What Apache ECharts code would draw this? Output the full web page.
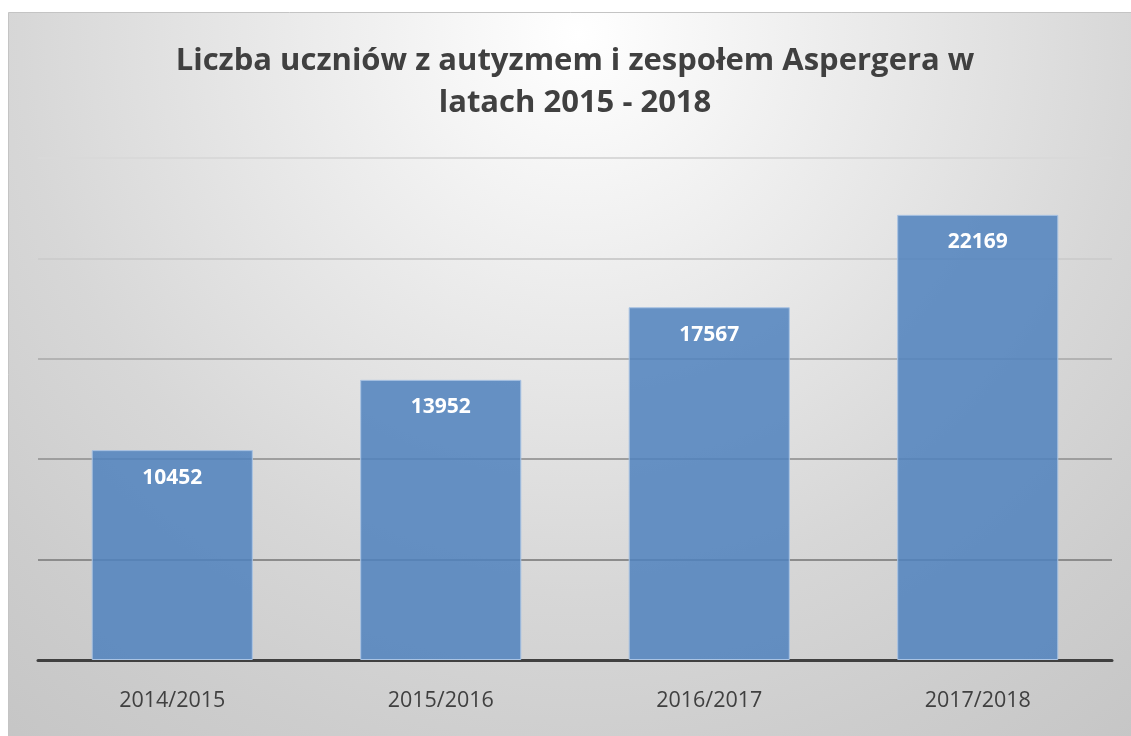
<!DOCTYPE html>
<html>
<head>
<meta charset="utf-8">
<script src="https://cdn.jsdelivr.net/npm/echarts@6/dist/echarts.min.js"></script>
<style>
  html, body { margin: 0; padding: 0; background: #fff; }
  #chart { width: 1131px; height: 736px; }
</style>
</head>
<body>
<div id="chart"></div>
<script>
// dane z wykresu
const years = ['2014/2015', '2015/2016', '2016/2017', '2017/2018'];
const students = [10452, 13952, 17567, 22169];
const gridColors = ['#7a7a7a', '#8c8c8c', '#9e9e9e', '#b3b3b3', '#cdcdcd', '#d9d9d9'];

const chart = echarts.init(document.getElementById('chart'), null, { renderer: 'canvas' });

const option = {
    animation: false,
    graphic: [{
        type: 'rect',
        z: -10,
        silent: true,
        shape: { x: 8.5, y: 12.5, width: 1140, height: 740 },
        style: {
            fill: {
                type: 'radial', x: 0.5, y: 0.03, r: 1.3,
                colorStops: [
                    { offset: 0, color: '#ffffff' },
                    { offset: 0.23, color: '#efefef' },
                    { offset: 0.58, color: '#d7d7d7' },
                    { offset: 0.77, color: '#cdcdcd' },
                    { offset: 1, color: '#c3c3c3' }
                ]
            },
            stroke: '#c4c4c4',
            lineWidth: 1
        }
    }],
    title: {
        text: 'Liczba uczniów z autyzmem i zespołem Aspergera w\nlatach 2015 - 2018',
        left: 570,
        textAlign: 'center',
        top: 35,
        textStyle: {
            fontFamily: 'Open Sans',
            fontWeight: 'bold',
            fontSize: 31,
            lineHeight: 42,
            color: '#404040'
        }
    },
    grid: { left: 38, right: 19, top: 158, bottom: 76 },
    xAxis: {
        type: 'category',
        data: years,
        axisTick: { show: false },
        axisLine: { lineStyle: { color: '#404040', width: 3 } },
        axisLabel: {
            margin: 30,
            fontFamily: 'Open Sans',
            fontSize: 21.5,
            color: '#404040'
        }
    },
    yAxis: {
        type: 'value',
        min: 0,
        max: 25000,
        interval: 5000,
        axisLabel: { show: false },
        axisLine: { show: false },
        axisTick: { show: false },
        splitLine: { lineStyle: { color: gridColors, width: 2 } }
    },
    series: [{
        type: 'bar',
        data: students,
        barCategoryGap: '40%',
        itemStyle: {
            color: 'rgba(79,129,189,0.85)',
            borderColor: '#a9c3e3',
            borderWidth: 1
        },
        label: {
            show: true,
            position: 'insideTop',
            distance: 17,
            fontFamily: 'Open Sans',
            fontWeight: 'bold',
            fontSize: 21,
            color: '#ffffff'
        }
    }]
};

chart.setOption(option);
</script>
</body>
</html>
